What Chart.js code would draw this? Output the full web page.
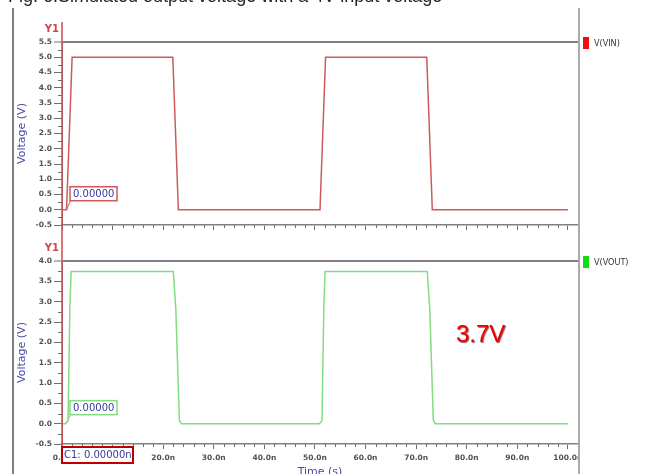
<!DOCTYPE html>
<html>
<head>
<meta charset="utf-8">
<script src="https://cdn.jsdelivr.net/npm/chart.js@4.4.1/dist/chart.umd.min.js"></script>
<style>
body{margin:0;background:#fff;overflow:hidden}
#wrap{position:relative;width:645px;height:474px;overflow:hidden;background:#fff}
#vin{position:absolute;left:0;top:0}
#vout{position:absolute;left:0;top:240px}
</style>
</head>
<body>
<div id="wrap">
<canvas id="vin" width="645" height="240"></canvas>
<canvas id="vout" width="645" height="250"></canvas>
</div>
<script>
var figTitle = 'Fig. 6.Simulated output voltage with a 4V input voltage';

// time axis (ns)
var timeTicks = [0, 10, 20, 30, 40, 50, 60, 70, 80, 90, 100];
var timeLabels = ['0.0n', '10.0n', '20.0n', '30.0n', '40.0n', '50.0n', '60.0n', '70.0n', '80.0n', '90.0n', '100.0n'];

// voltage ticks
var vinTicks = [-0.5, 0, 0.5, 1, 1.5, 2, 2.5, 3, 3.5, 4, 4.5, 5, 5.5];
var vinLabels = ['-0.5', '0.0', '0.5', '1.0', '1.5', '2.0', '2.5', '3.0', '3.5', '4.0', '4.5', '5.0', '5.5'];
var voutTicks = [-0.5, 0, 0.5, 1, 1.5, 2, 2.5, 3, 3.5, 4];
var voutLabels = ['-0.5', '0.0', '0.5', '1.0', '1.5', '2.0', '2.5', '3.0', '3.5', '4.0'];

// V(VIN)
var vinT = [0, 0.9, 2.0, 21.9, 23.0, 51.0, 52.1, 72.1, 73.2, 100];
var vinV = [0, 0, 5, 5, 0, 0, 5, 5, 0, 0];

// V(VOUT)
var voutT = [0, 0.7, 1.2, 1.55, 1.8, 22.0, 22.5, 23.2, 23.6, 50.9, 51.4, 51.75, 52.0, 72.2, 72.7, 73.4, 73.8, 100];
var voutV = [0, 0, 0.08, 2.82, 3.74, 3.74, 2.82, 0.08, 0, 0, 0.08, 2.82, 3.74, 3.74, 2.82, 0.08, 0, 0];

var cursorT = 0;
var cursorLabel = 'C1: 0.00000n';
var vinMarker = '0.00000';
var voutMarker = '0.00000';
var voutNote = '3.7V';


var decor = {
	id: 'decor',
	afterDraw: function(chart, args, o) {
		var ctx = chart.ctx;
		var xs = chart.scales.x, ys = chart.scales.y;
		var ca = chart.chartArea;
		var H = chart.height;
		ctx.save();

		// minor ticks
		ctx.strokeStyle = '#707070';
		ctx.lineWidth = 1;
		ctx.beginPath();
		for (var t = 2; t < 100; t += 2) {
			if (t % 10 == 0) continue;
			var px = Math.round(xs.getPixelForValue(t)) + 0.5;
			ctx.moveTo(px, ca.bottom);
			ctx.lineTo(px, ca.bottom + 3);
		}
		for (var v = ys.min + 0.25; v < ys.max; v += 0.5) {
			var py = Math.round(ys.getPixelForValue(v)) + 0.5;
			ctx.moveTo(ca.left - 4, py);
			ctx.lineTo(ca.left, py);
		}
		ctx.stroke();

		// hide the clipped tail of the last label
		ctx.fillStyle = '#fff';
		ctx.fillRect(ca.right + 1, ca.bottom + 8, 30, 20);

		// figure frame
		ctx.strokeStyle = '#555';
		ctx.lineWidth = 1.5;
		ctx.beginPath();
		ctx.moveTo(13, o.top ? 8 : 0);
		ctx.lineTo(13, H);
		ctx.stroke();
		ctx.strokeStyle = '#aaa';
		ctx.lineWidth = 2;
		ctx.beginPath();
		ctx.moveTo(ca.right + 1, o.top ? 8 : 0);
		ctx.lineTo(ca.right + 1, H);
		ctx.stroke();

		// cursor line
		var cx = xs.getPixelForValue(cursorT);
		ctx.strokeStyle = '#d04848';
		ctx.lineWidth = 1.5;
		ctx.beginPath();
		ctx.moveTo(cx, o.top ? 22 : 0);
		ctx.lineTo(cx, o.top ? H : 207);
		ctx.stroke();

		// Y1
		ctx.fillStyle = '#d04848';
		ctx.font = 'bold 10px "DejaVu Sans"';
		ctx.textAlign = 'right';
		ctx.textBaseline = 'middle';
		ctx.fillText('Y1', cx - 3, ca.top - 12.5);

		// legend
		var ds = chart.data.datasets[0];
		ctx.fillStyle = o.legendColor;
		ctx.fillRect(583, ca.top - 5, 6, 12);
		ctx.fillStyle = '#333';
		ctx.font = '9px "DejaVu Sans Condensed"';
		ctx.textAlign = 'left';
		ctx.fillText(ds.label, 594, ca.top + 1.5);

		// value marker at cursor
		var x0 = cx, y0 = ys.getPixelForValue(0);
		ctx.strokeStyle = ds.borderColor;
		ctx.lineWidth = 1;
		ctx.beginPath();
		ctx.moveTo(x0 + 4.5, y0);
		ctx.lineTo(x0 + 8.5, y0 - 9);
		ctx.stroke();
		ctx.fillStyle = '#fff';
		ctx.fillRect(x0 + 8, y0 - 23, 47, 14);
		ctx.lineWidth = 1.5;
		ctx.strokeRect(x0 + 8, y0 - 23, 47, 14);
		ctx.fillStyle = '#3838a0';
		ctx.font = '10px "DejaVu Sans"';
		ctx.fillText(o.marker, x0 + 11, y0 - 15.5);

		if (o.top) {
			ctx.fillStyle = '#222';
			ctx.font = '18px "Liberation Sans"';
			ctx.textBaseline = 'alphabetic';
			ctx.fillText(figTitle, 8, 2);
		} else {
			// cursor box
			ctx.fillStyle = '#fff';
			ctx.fillRect(cx, 207, 71, 16);
			ctx.strokeStyle = '#c00000';
			ctx.lineWidth = 2;
			ctx.strokeRect(cx, 207, 71, 16);
			ctx.fillStyle = '#3838a0';
			ctx.font = '10px "DejaVu Sans"';
			ctx.textBaseline = 'middle';
			ctx.fillText(cursorLabel, cx + 2, 215.5);

			ctx.fillStyle = '#ee0000';
			ctx.shadowColor = 'rgba(90,0,0,0.7)';
			ctx.shadowOffsetX = 1;
			ctx.shadowOffsetY = 1;
			ctx.shadowBlur = 1;
			ctx.font = '24px "Liberation Sans"';
			ctx.textBaseline = 'alphabetic';
			ctx.fillText(voutNote, 456, 102);
		}
		ctx.restore();
	}
};


function makeChart(id, label, tArr, vArr, color, yTicks, yLabels, padTop, xHeight, isTop, legendColor, marker) {
	var pts = tArr.map(function(t, i) { return {x: t, y: vArr[i]}; });
	var yMax = yTicks[yTicks.length - 1];
	return new Chart(document.getElementById(id), {
		type: 'line',
		data: {
			datasets: [{
				label: label,
				data: pts,
				borderColor: color,
				borderWidth: 1.5,
				pointRadius: 0,
				tension: 0,
				fill: false
			}]
		},
		options: {
			responsive: false,
			animation: false,
			layout: {padding: {top: padTop, right: 67, left: 0, bottom: 0}},
			plugins: {
				legend: {display: false},
				tooltip: {enabled: false},
				decor: {top: isTop, legendColor: legendColor, marker: marker}
			},
			scales: {
				x: {
					type: 'linear',
					min: 0,
					max: 102,
					afterBuildTicks: function(s) { s.ticks = timeTicks.map(function(v) { return {value: v}; }); },
					afterFit: function(s) { s.height = xHeight; },
					border: {display: true, color: '#808080', width: 1.5},
					grid: {drawOnChartArea: false, tickLength: 5, color: '#707070'},
					ticks: {
						display: !isTop,
						autoSkip: false,
						maxRotation: 0,
						padding: 5,
						color: '#505050',
						font: {family: 'DejaVu Sans', size: 7.5, weight: 'bold'},
						callback: function(v, i) { return timeLabels[i]; }
					},
					title: {
						display: !isTop,
						text: 'Time (s)',
						color: '#4a4aa8',
						font: {family: 'DejaVu Sans', size: 11},
						padding: {top: 0, bottom: 11}
					}
				},
				y: {
					min: yTicks[0],
					max: yMax,
					afterBuildTicks: function(s) { s.ticks = yTicks.map(function(v) { return {value: v}; }); },
					afterFit: function(s) { s.width = 62; },
					border: {display: true, color: '#808080'},
					grid: {
						drawOnChartArea: true,
						color: function(c) { return c.tick && c.tick.value === yMax ? '#808080' : 'rgba(0,0,0,0)'; },
						lineWidth: function(c) { return c.tick && c.tick.value === yMax ? 2 : 1; },
						tickColor: '#707070',
						tickWidth: 1,
						tickLength: 8
					},
					ticks: {
						padding: 2,
						color: '#505050',
						font: {family: 'DejaVu Sans', size: 7.5, weight: 'bold'},
						callback: function(v, i) { return yLabels[i]; }
					},
					title: {
						display: true,
						text: 'Voltage (V)',
						color: '#4a4aa8',
						font: {family: 'DejaVu Sans', size: 11},
						padding: {top: 16, bottom: 0}
					}
				}
			}
		},
		plugins: [decor]
	});
}

var vinChart = makeChart('vin', 'V(VIN)', vinT, vinV, '#cc5a5a', vinTicks, vinLabels, 42, 15, true, '#ee1010', vinMarker);
var voutChart = makeChart('vout', 'V(VOUT)', voutT, voutV, '#82dc82', voutTicks, voutLabels, 21, 46, false, '#10dd10', voutMarker);
</script>
</body>
</html>
